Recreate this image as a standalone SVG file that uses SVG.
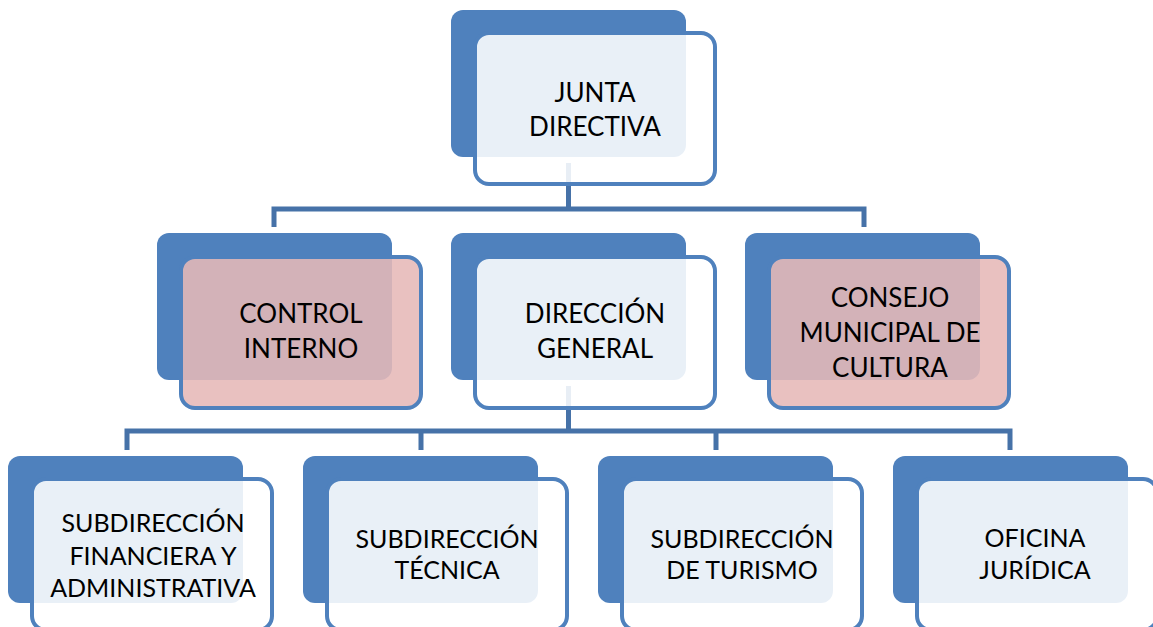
<svg xmlns="http://www.w3.org/2000/svg" width="1153" height="627" viewBox="0 0 1153 627">
<style>
.back{fill:#4F81BD}
.front{fill:#FFFFFF;fill-opacity:0.88;stroke:#4F81BD;stroke-width:4}
.pink{fill:#E6B8B7;fill-opacity:0.88;stroke:#4F81BD;stroke-width:4}
.conn{fill:none;stroke:#4672A8;stroke-width:5}
text{font-family:Lato,"Liberation Sans",sans-serif;font-size:26px;fill:#000;text-anchor:middle}
.sm{font-size:25px}
</style>
<rect x="0" y="0" width="1153" height="627" fill="#FFFFFF"/>
<g id="connectors">
<path class="conn" d="M568.5,163 V209 M274,227 V209 H864 V227"/>
<path class="conn" d="M568.5,386 V431 M127,450 V431 H1010 V450 M421,431 V450 M716,431 V450"/>
</g>
<g id="junta">
<rect class="back" x="451" y="10" width="235" height="147" rx="12"/>
<rect class="front" x="475" y="33" width="240" height="151" rx="14"/>
<text x="595" y="102">JUNTA</text>
<text x="595" y="136">DIRECTIVA</text>
</g>
<g id="control">
<rect class="back" x="157" y="233" width="235" height="147" rx="12"/>
<rect class="pink" x="181" y="257" width="240" height="151" rx="14"/>
<text x="301" y="323">CONTROL</text>
<text x="301" y="358">INTERNO</text>
</g>
<g id="direccion">
<rect class="back" x="451" y="233" width="235" height="147" rx="12"/>
<rect class="front" x="475" y="257" width="240" height="151" rx="14"/>
<text x="595" y="323">DIRECCIÓN</text>
<text x="595" y="358">GENERAL</text>
</g>
<g id="consejo">
<rect class="back" x="745" y="233" width="235" height="147" rx="12"/>
<rect class="pink" x="769" y="257" width="240" height="151" rx="14"/>
<text x="890" y="307">CONSEJO</text>
<text x="890" y="342">MUNICIPAL DE</text>
<text x="890" y="377">CULTURA</text>
</g>
<g id="subfin">
<rect class="back" x="8" y="456" width="235" height="147" rx="12"/>
<rect class="front" x="32" y="479" width="240" height="151" rx="14"/>
<text class="sm" x="153" y="532">SUBDIRECCIÓN</text>
<text class="sm" x="153" y="565">FINANCIERA Y</text>
<text class="sm" x="153" y="597">ADMINISTRATIVA</text>
</g>
<g id="subtec">
<rect class="back" x="303" y="456" width="235" height="147" rx="12"/>
<rect class="front" x="327" y="479" width="240" height="151" rx="14"/>
<text class="sm" x="447" y="548">SUBDIRECCIÓN</text>
<text class="sm" x="447" y="579">TÉCNICA</text>
</g>
<g id="subtur">
<rect class="back" x="598" y="456" width="235" height="147" rx="12"/>
<rect class="front" x="622" y="479" width="240" height="151" rx="14"/>
<text class="sm" x="742" y="548">SUBDIRECCIÓN</text>
<text class="sm" x="742" y="579">DE TURISMO</text>
</g>
<g id="oficina">
<rect class="back" x="893" y="456" width="235" height="147" rx="12"/>
<rect class="front" x="917" y="479" width="240" height="151" rx="14"/>
<text class="sm" x="1035" y="547">OFICINA</text>
<text class="sm" x="1035" y="579">JURÍDICA</text>
</g>
</svg>
